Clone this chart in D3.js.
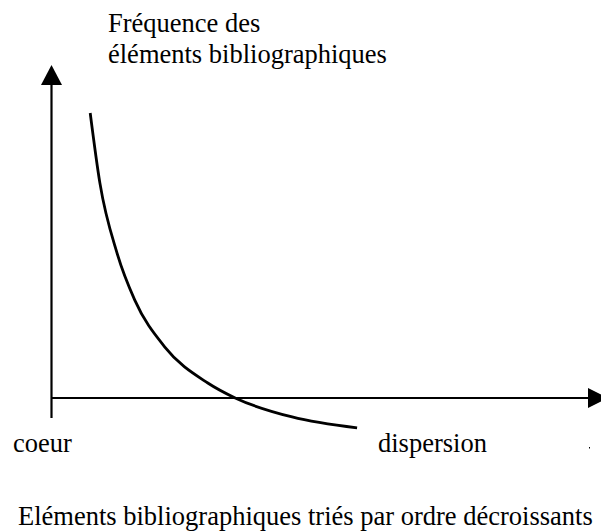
<!DOCTYPE html>
<html><head><meta charset="utf-8">
<script src="https://cdn.jsdelivr.net/npm/d3@7"></script>
<style>html,body{margin:0;padding:0;background:#fff;}svg{display:block;}</style>
</head><body>
<script>
// Conceptual curve (rank of bibliographic elements vs frequency)
const curveX = [7.3, 9.1, 12.3, 15.6, 21.2, 29.2, 34.3, 44.9, 57.0];
const curveY = [85.6, 64.6, 43.5, 29.4, 15.3, 4.5, 0, -5.7, -9.0];
const titleLines = ["Fréquence des", "éléments bibliographiques"];
const xStartLabel = "coeur";
const xEndLabel = "dispersion";
const xAxisTitle = "Eléments bibliographiques triés par ordre décroissants";

const W = 601, H = 532;
const svg = d3.select("body").append("svg").attr("width", W).attr("height", H);
const x = d3.scaleLinear().domain([0, 100]).range([51, 588]);
const y = d3.scaleLinear().domain([0, 100]).range([398, 65]);
const font = "'Liberation Serif', 'Times New Roman', Times, serif";

// y axis
svg.append("line").attr("x1", x(0) + 0.5).attr("x2", x(0) + 0.5)
  .attr("y1", y(-6)).attr("y2", y(94)).attr("stroke", "#000").attr("stroke-width", 2.2);
svg.append("path").attr("d", d3.line()([[x(0) - 10, y(94)], [x(0) + 11, y(94)], [x(0) + 0.5, y(100)]]) + "Z")
  .attr("fill", "#000");
// x axis
svg.append("line").attr("x1", x(0)).attr("x2", x(100))
  .attr("y1", y(0)).attr("y2", y(0)).attr("stroke", "#000").attr("stroke-width", 2);
svg.append("path").attr("d", d3.line()([[x(100), y(0) - 10], [x(100), y(0) + 10], [x(100) + 20, y(0)]]) + "Z")
  .attr("fill", "#000");

// curve
const pts = curveX.map((v, i) => [x(v), y(curveY[i])]);
svg.append("path").attr("d", d3.line().curve(d3.curveMonotoneX)(pts))
  .attr("fill", "none").attr("stroke", "#000").attr("stroke-width", 2.8);

// texts
const fs = "26.5px";
const addText = (t, tx, ty) => svg.append("text").attr("x", tx).attr("y", ty)
  .attr("font-family", font).attr("font-size", fs).attr("fill", "#000").text(t);
addText(titleLines[0], 108, 32);
addText(titleLines[1], 108, 63);
addText(xStartLabel, 13, 452);
addText(xEndLabel, 378, 452);
addText(xAxisTitle, 18, 525);
// tiny stray dot
svg.append("rect").attr("x", 589).attr("y", 447).attr("width", 1).attr("height", 1.5).attr("fill", "#000");
</script>
</body></html>
